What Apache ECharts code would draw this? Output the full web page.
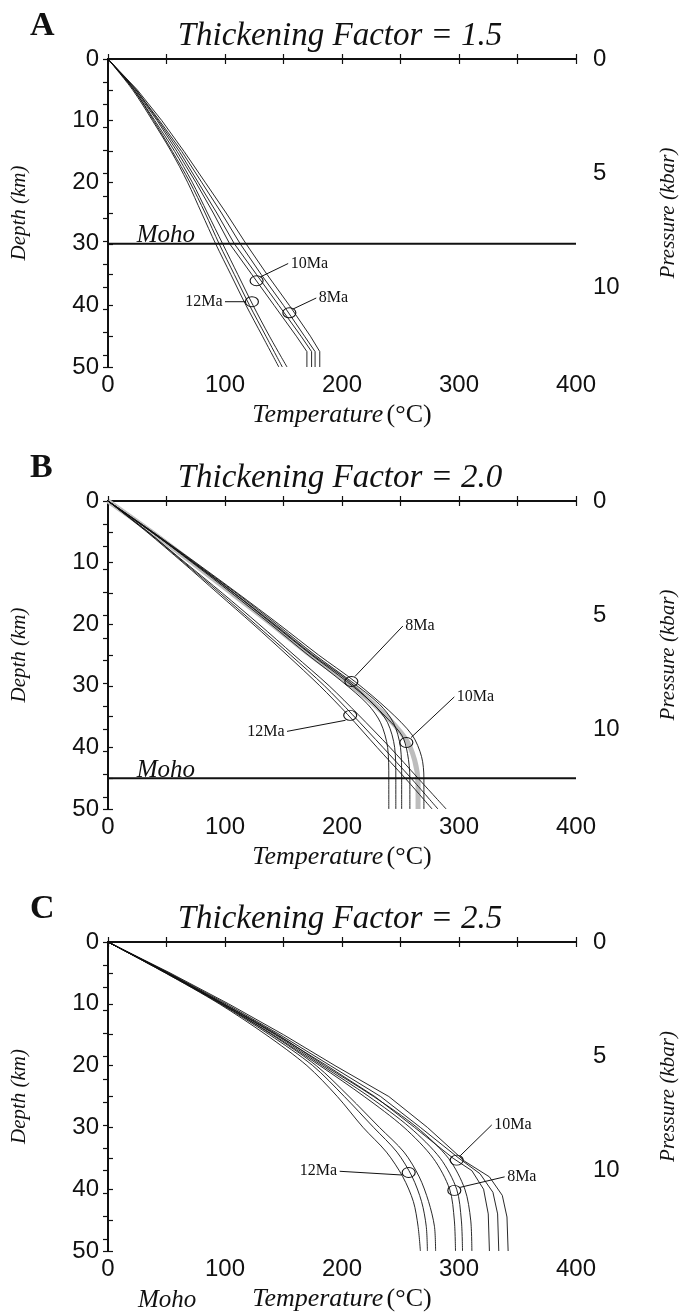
<!DOCTYPE html>
<html>
<head>
<meta charset="utf-8">
<script src="https://cdn.jsdelivr.net/npm/echarts@6/dist/echarts.min.js"></script>
<style>
html, body { margin: 0; padding: 0; background: #fff; }
#chart { width: 681px; height: 1316px; }
</style>
</head>
<body>
<div id="chart"></div>
<script>
// tick labels
var tempTicks = [0, 100, 200, 300, 400];
var depthTicks = [0, 10, 20, 30, 40, 50];
var pressureTicks = [0, 5, 10];
var kmPerKbar = 3.7;

// geotherms, [temperature °C, depth km]
// A: thickening factor 1.5
var a12Ma = [
    [[0,0],[21,5],[38,10],[54,15],[68,20],[80,25],[92,30],[105,35],[118,40],[132,45],[146,50]],
    [[0,0],[22,5],[39,10],[55,15],[70,20],[83,25],[95,30],[108,35],[121,40],[135,45],[149,50]],
    [[0,0],[22,5],[40,10],[57,15],[72,20],[85,25],[98,30],[111,35],[124,40],[138,45],[153,50]]
];
var a10Ma = [
    [[0,0],[23,5],[42,10],[59,15],[75,20],[90,25],[104,30],[123,35],[142,40],[161,45],[170,47.5],[170,50]],
    [[0,0],[24,5],[43,10],[61,15],[77,20],[93,25],[108,30],[127,35],[146,40],[165,45],[174,47.5],[174,50]]
];
var a8Ma = [
    [[0,0],[24,5],[44,10],[63,15],[80,20],[97,25],[113,30],[131,35],[150,40],[168,45],[177,47.5],[177,50]],
    [[0,0],[25,5],[46,10],[65,15],[83,20],[101,25],[118,30],[136,35],[155,40],[173,45],[181,47.5],[181,50]]
];

// B: thickening factor 2.0
var b8Ma = [
    [[0,0],[37,5],[72,10],[106,15],[139,20],[171,25],[200,29.3],[222,33],[233,36],[239,40],[240,45],[240,50]],
    [[0,0],[37,5],[73,10],[108,15],[141,20],[174,25],[204,29.3],[227,33],[239,36],[245,40],[246,45],[246,50]],
    [[0,0],[38,5],[74,10],[110,15],[144,20],[177,25],[208,29.3],[232,33],[244,36],[250,40],[251,45],[251,50]]
];
var b10Ma = [
    [[0,0],[37,5],[73,10],[108,15],[142,20],[175,25],[206,29.3],[232,34],[251,38],[256,41],[258,45],[258,50]],
    [[0,0],[38,5],[75,10],[111,15],[146,20],[180,25],[211,29.3],[240,34],[260,38],[268,41.5],[270,45],[270,50]]
];
var b10MaShaded = [[0,0],[37,5],[72,10],[106,15],[140,20],[173,25],[204,29.3],[233,34],[254,38.5],[262,42],[265,46],[265,50]];
var b12Ma = [
    [[0,0],[33,5],[64,10],[94,15],[124,20],[153,25],[181,30],[205,34.7],[230,40],[254,45],[277,50]],
    [[0,0],[34,5],[65,10],[96,15],[126,20],[156,25],[185,30],[209,34.7],[235,40],[259,45],[282,50]],
    [[0,0],[34,5],[66,10],[98,15],[129,20],[159,25],[189,30],[214,34.7],[241,40],[265,45],[289,50]]
];

// C: thickening factor 2.5
var c10Ma = [
    [[0,0],[51,5],[99,10],[144,15],[187,20],[228,25],[262,30],[295,35],[311,37],[321,40],[325,44],[326,50]],
    [[0,0],[52,5],[101,10],[147,15],[190,20],[233,25],[267,30],[300,35],[318,37.5],[329,40.5],[333,44],[334,50]],
    [[0,0],[53,5],[103,10],[150,15],[194,20],[240,25],[273,30],[305,35.5],[326,38],[337,41],[341,44.5],[342,50]]
];
var c8Ma = [
    [[0,0],[50,5],[97,10],[141,15],[181,20],[219,25],[253,30],[278,35],[292,40],[296,45],[297,50]],
    [[0,0],[50,5],[98,10],[143,15],[183,20],[223,25],[258,30],[284,35],[298,40],[302,45],[303,50]],
    [[0,0],[51,5],[99,10],[145,15],[185,20],[227,25],[264,30],[291,35],[305,40],[310,45],[311,50]]
];
var c12Ma = [
    [[0,0],[49,5],[95,10],[135,15],[170,20],[196,25],[218,30],[238,34],[252,38],[261,42],[265,46],[267,50]],
    [[0,0],[49,5],[96,10],[138,15],[175,20],[202,25],[227,30],[247,34],[260,38],[268,42],[272,46],[273,50]],
    [[0,0],[50,5],[97,10],[140,15],[178,20],[206,25],[232,30],[253,34],[266,38],[274,42],[279,46],[280,50]]
];

// Moho depth (km) per panel
var mohoDepths = [30, 45, null];

// age labels: ring on the curves, leader line, text
var notesA = [
    { name: '10Ma', ring: [127, 36.0], from: [130, 35.4], to: [154, 33.2], side: 'right' },
    { name: '12Ma', ring: [123, 39.4], from: [118, 39.4], to: [100, 39.4], side: 'left' },
    { name: '8Ma',  ring: [155, 41.2], from: [158, 40.6], to: [178, 38.8], side: 'right' }
];
var notesB = [
    { name: '8Ma',  ring: [208, 29.3], from: [211, 28.5], to: [252, 20.3], side: 'right' },
    { name: '10Ma', ring: [255, 39.2], from: [259, 38.4], to: [296, 31.8], side: 'right' },
    { name: '12Ma', ring: [207, 34.8], from: [203, 35.6], to: [153, 37.4], side: 'left' }
];
var notesC = [
    { name: '10Ma', ring: [298, 35.3], from: [301, 34.6], to: [328, 29.6], side: 'right' },
    { name: '8Ma',  ring: [296, 40.2], from: [301, 39.7], to: [339, 38.0], side: 'right' },
    { name: '12Ma', ring: [257, 37.3], from: [251, 37.7], to: [198, 37.1], side: 'left' }
];

var titles = ['Thickening Factor = 1.5', 'Thickening Factor = 2.0', 'Thickening Factor = 2.5'];
var letters = ['A', 'B', 'C'];

var panels = [
    { groups: [{ curves: a12Ma, smooth: 0.3 }, { curves: a10Ma, smooth: false }, { curves: a8Ma, smooth: false }], notes: notesA },
    { groups: [{ curves: b8Ma, smooth: 0.3 }, { curves: b10Ma, smooth: 0.3 }, { curves: b12Ma, smooth: 0.3 }], shaded: b10MaShaded, notes: notesB },
    { groups: [{ curves: c10Ma, smooth: false }, { curves: c8Ma, smooth: 0.3 }, { curves: c12Ma, smooth: 0.3 }], notes: notesC }
];

var chart = echarts.init(document.getElementById('chart'));

var INK = '#111';
var NONE = 'rgba(0,0,0,0)';
var SERIF = '"Liberation Serif", "Times New Roman", serif';
var SANS = '"Liberation Sans", Arial, sans-serif';
var gridTops = [59, 501, 942];
var gridHeights = [308, 308, 309];

var grids = [], xAxes = [], yAxes = [], series = [], graphics = [];

function pick(list) {
    return function (v) {
        for (var i = 0; i < list.length; i++) {
            if (Math.abs(list[i] - v) < 1e-6) return String(list[i]);
        }
        return '';
    };
}

var lineAx = { lineStyle: { color: INK, width: 2 } };
var tickAx = { inside: true, length: 5, lineStyle: { color: INK, width: 1.2 } };

panels.forEach(function (p, k) {
    grids.push({ left: 108, top: gridTops[k], width: 468, height: gridHeights[k], containLabel: false, outerBoundsMode: 'none' });

    xAxes.push({
        gridIndex: k, type: 'value', position: 'bottom', min: 0, max: 400, interval: 50,
        axisLine: lineAx, axisTick: tickAx, splitLine: { show: false },
        axisLabel: { formatter: pick(tempTicks), fontFamily: SANS, fontSize: 24, color: INK, margin: 6 },
        name: '{i|Temperature} {u|(°C)}', nameLocation: 'middle', nameGap: 35,
        nameTextStyle: {
            color: INK,
            rich: {
                i: { fontFamily: SERIF, fontStyle: 'italic', fontSize: 26, color: INK },
                u: { fontFamily: SERIF, fontSize: 26, color: INK }
            }
        }
    });
    xAxes.push({
        gridIndex: k, type: 'value', position: 'top', min: 0, max: 400, interval: 50,
        axisLine: lineAx, axisTick: tickAx, splitLine: { show: false }, axisLabel: { show: false }
    });

    yAxes.push({
        gridIndex: k, type: 'value', position: 'left', inverse: true, min: 0, max: 50, interval: 5,
        axisLine: lineAx, axisTick: tickAx, splitLine: { show: false },
        axisLabel: { formatter: pick(depthTicks), fontFamily: SANS, fontSize: 24, color: INK, margin: 9 },
        name: 'Depth (km)', nameLocation: 'middle', nameGap: 78,
        nameTextStyle: { fontFamily: SERIF, fontStyle: 'italic', fontSize: 21, color: INK }
    });
    yAxes.push({
        gridIndex: k, type: 'value', position: 'right', inverse: true, min: 0, max: 50 / kmPerKbar, interval: 1,
        axisLine: lineAx, axisTick: tickAx, splitLine: { show: false },
        axisLabel: { formatter: pick(pressureTicks), fontFamily: SANS, fontSize: 24, color: INK, margin: 17 },
        name: 'Pressure (kbar)', nameLocation: 'middle', nameGap: 82, nameRotate: 90,
        nameTextStyle: { fontFamily: SERIF, fontStyle: 'italic', fontSize: 21, color: INK }
    });

    var xi = 2 * k, yi = 2 * k;

    if (p.shaded) {
        series.push({
            type: 'line', xAxisIndex: xi, yAxisIndex: yi, data: p.shaded, smooth: 0.3,
            symbol: 'none', silent: true, z: 1,
            lineStyle: { color: '#bdbdbd', width: 5 }
        });
    }

    p.groups.forEach(function (g) {
        g.curves.forEach(function (c) {
            series.push({
                type: 'line', xAxisIndex: xi, yAxisIndex: yi, data: c, smooth: g.smooth,
                symbol: 'none', silent: true, z: 3,
                lineStyle: { color: INK, width: 0.9 }
            });
        });
    });

    var moho = mohoDepths[k];
    if (moho !== null) {
        series.push({
            type: 'line', xAxisIndex: xi, yAxisIndex: yi, data: [[0, moho], [400, moho]],
            symbol: 'none', silent: true, z: 4, lineStyle: { color: INK, width: 2 }
        });
        series.push({
            type: 'scatter', xAxisIndex: xi, yAxisIndex: yi, symbolSize: 1, silent: true, z: 6,
            itemStyle: { color: NONE, opacity: 1 },
            data: [{ value: [25, moho], name: 'Moho' }],
            label: {
                show: true, formatter: '{b}', position: [0, 5], align: 'left', verticalAlign: 'bottom',
                fontFamily: SERIF, fontStyle: 'italic', fontSize: 25, color: INK
            }
        });
    }

    p.notes.forEach(function (n) {
        series.push({
            type: 'line', xAxisIndex: xi, yAxisIndex: yi, data: [n.from, n.to],
            symbol: 'none', silent: true, z: 4, lineStyle: { color: INK, width: 1 }
        });
    });
    series.push({
        type: 'scatter', xAxisIndex: xi, yAxisIndex: yi, silent: true, z: 5,
        symbol: 'circle', symbolSize: [13, 10],
        itemStyle: { color: NONE, borderColor: INK, borderWidth: 1, opacity: 1 },
        data: p.notes.map(function (n) { return n.ring; })
    });
    series.push({
        type: 'scatter', xAxisIndex: xi, yAxisIndex: yi, silent: true, symbolSize: 1, z: 6,
        itemStyle: { color: NONE, opacity: 1 },
        data: p.notes.map(function (n) {
            return { value: n.to, name: n.name, label: { position: n.side } };
        }),
        label: {
            show: true, formatter: '{b}', distance: 2,
            fontFamily: SERIF, fontSize: 16, color: INK
        }
    });

    graphics.push({
        type: 'text', x: 340, y: gridTops[k] - 6,
        style: { text: titles[k], font: 'italic 33px ' + SERIF, fill: INK, textAlign: 'center', textVerticalAlign: 'bottom' }
    });
    graphics.push({
        type: 'text', x: 30, y: gridTops[k] - 50,
        style: { text: letters[k], font: 'bold 34px ' + SERIF, fill: INK, textAlign: 'left', textVerticalAlign: 'top' }
    });
});

// Moho label of panel C sits below the frame
graphics.push({
    type: 'text', x: 138, y: 1313,
    style: { text: 'Moho', font: 'italic 25px ' + SERIF, fill: INK, textAlign: 'left', textVerticalAlign: 'bottom' }
});

chart.setOption({
    animation: false,
    backgroundColor: '#fff',
    grid: grids,
    xAxis: xAxes,
    yAxis: yAxes,
    series: series,
    graphic: graphics
});
</script>
</body>
</html>
